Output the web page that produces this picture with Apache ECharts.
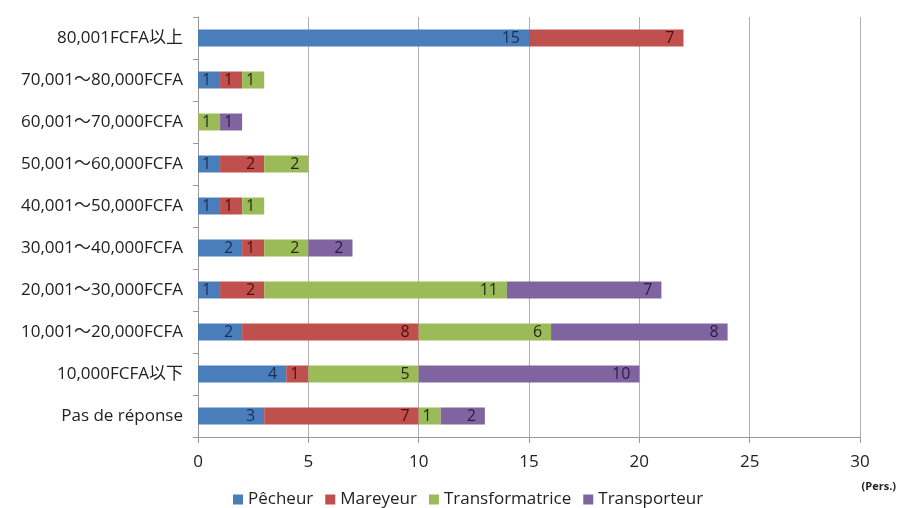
<!DOCTYPE html>
<html lang="fr">
<head>
  <meta charset="UTF-8">
  <title>echarts</title>
  <style>
    html, body {
      height: 100%;
      width: 100%;
      margin: 0;
      padding: 0;
      background: #fff;
    }
  </style>
  <script src="https://cdn.jsdelivr.net/npm/echarts@6/dist/echarts.min.js"></script>
</head>
<body>
<div id="main" style="width: 898px; height: 508px;"></div>

<script>
  // categories, bottom to top
  var categories = [
    'Pas de réponse',
    '10,000FCFA以下',
    '10,001～20,000FCFA',
    '20,001～30,000FCFA',
    '30,001～40,000FCFA',
    '40,001～50,000FCFA',
    '50,001～60,000FCFA',
    '60,001～70,000FCFA',
    '70,001～80,000FCFA',
    '80,001FCFA以上'
  ];
  var seriesNames = ['Pêcheur', 'Mareyeur', 'Transformatrice', 'Transporteur'];
  var pecheur = [3, 4, 2, 1, 2, 1, 1, 0, 1, 15];
  var mareyeur = [7, 1, 8, 2, 1, 1, 2, 0, 1, 7];
  var transformatrice = [1, 5, 6, 11, 2, 1, 2, 1, 1, 0];
  var transporteur = [2, 10, 8, 7, 2, 0, 0, 1, 0, 0];

  var colors = ['#4A7EBB', '#C0504D', '#9BBB59', '#8064A2'];
  var labelColors = ['#1a2f55', '#4a1010', '#1f2a10', '#2a1a40'];
  var font = "'Open Sans', 'Noto Sans CJK JP', sans-serif";

  var chartDom = document.getElementById('main');
  var myChart = echarts.init(chartDom);

  function mkSeries(name, values, i) {
    return {
      name: name,
      type: 'bar',
      stack: 'total',
      barWidth: 17,
      itemStyle: { color: colors[i] },
      label: {
        show: true,
        position: 'insideRight',
        distance: 9,
        color: labelColors[i],
        fontSize: 16,
        fontFamily: font,
        formatter: function (p) { return p.value ? p.value : ''; }
      },
      data: values.map(function (v) { return v === 0 ? null : v; })
    };
  }

  var option = {
    animation: false,
    textStyle: { fontFamily: font },
    grid: { left: 198, right: 38, top: 17, bottom: 71 },
    legend: {
      top: 486,
      left: 228,
      itemWidth: 10,
      itemHeight: 10,
      itemGap: 12,
      icon: 'rect',
      textStyle: { fontSize: 17, color: '#222', fontFamily: font },
      data: seriesNames
    },
    xAxis: {
      type: 'value',
      min: 0,
      max: 30,
      interval: 5,
      axisLine: { show: true, lineStyle: { color: '#999' } },
      axisTick: { show: true, length: 6, lineStyle: { color: '#999' } },
      axisLabel: { fontSize: 17, color: '#222', margin: 17, fontFamily: font },
      splitLine: { show: true, lineStyle: { color: '#b0b0b0' } }
    },
    yAxis: {
      type: 'category',
      data: categories,
      axisLine: { show: true, lineStyle: { color: '#999' } },
      axisTick: { show: true, length: 5, lineStyle: { color: '#999' } },
      axisLabel: { fontSize: 17, color: '#222', margin: 15, fontFamily: font }
    },
    graphic: [{
      type: 'text',
      right: 2,
      top: 481,
      style: { text: '(Pers.)', fontSize: 11, fontWeight: 'bold', fill: '#222', fontFamily: font }
    }],
    series: [
      mkSeries(seriesNames[0], pecheur, 0),
      mkSeries(seriesNames[1], mareyeur, 1),
      mkSeries(seriesNames[2], transformatrice, 2),
      mkSeries(seriesNames[3], transporteur, 3)
    ]
  };
  myChart.setOption(option);
</script>
</body>
</html>
